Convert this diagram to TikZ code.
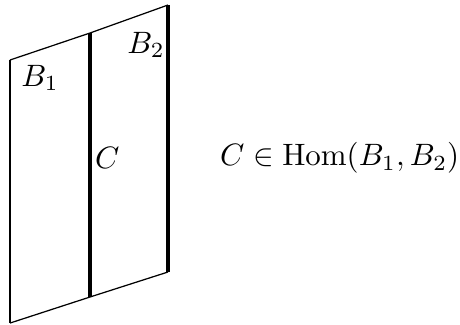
\documentclass[tikz,border=0pt]{standalone}
\usepackage{amssymb,amsmath}
\usetikzlibrary{positioning}

\begin{document}
\begin{tikzpicture}[
    edge/.style={line width=0.4pt},
    wall/.style={line width=0.8pt},
    seam/.style={line width=1.3pt},
    lbl/.style={inner sep=1pt}]
    \useasboundingbox (0,0) rectangle (5.227,3.682);

    \coordinate (lt) at (0.114,3.000);
    \coordinate (lb) at (0.114,0.011);
    \coordinate (mt) at (1.023,3.307);
    \coordinate (mb) at (1.023,0.307);
    \coordinate (rt) at (1.909,3.625);
    \coordinate (rb) at (1.909,0.591);

    \draw[edge] (lt) -- (mt) -- (rt);
    \draw[edge] (lb) -- (mb) -- (rb);
    \draw[wall] (lt) -- (lb);
    \draw[seam] (mt) -- (mb);
    \draw[seam, line width=1.1pt] (rt) -- (rb);

    \node[lbl] (b1) at (0.455,2.795) {$B_1$};
    \node[lbl] (b2) at (1.660,3.170) {$B_2$};
    \node[lbl] (c) at (1.220,1.886) {$C$};
    \node[lbl] (hom) at (3.860,1.886) {$C \in \operatorname{Hom}(B_1, B_2)$};
\end{tikzpicture}
\end{document}
